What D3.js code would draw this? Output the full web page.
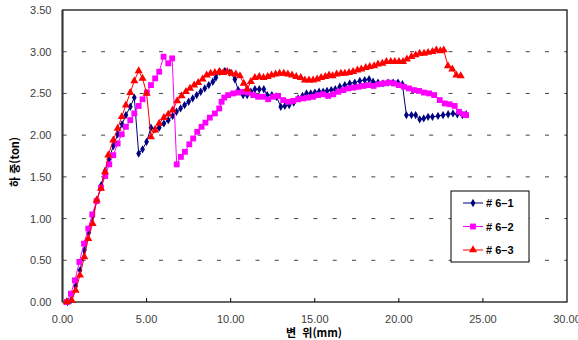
<!DOCTYPE html>
<html lang="ko">
  <head>
    <meta charset="UTF-8" />
    <title>하중-변위 곡선</title>
    <style type="text/css">
      body {
        margin: 0;
        background: #ffffff;
        font-family: "Liberation Sans", Arial, Helvetica, sans-serif;
      }

      svg {
        display: block;
      }

      .tick-label {
        font-size: 11px;
        fill: #404040;
      }

      .axis-title {
        font-family: "Noto Sans CJK KR", "Liberation Sans", sans-serif;
        font-size: 11px;
        font-weight: bold;
        fill: #000000;
      }

      .legend-label {
        font-size: 11px;
        font-weight: bold;
        fill: #000000;
      }
    </style>
  </head>
  <body>
    <script src="https://d3js.org/d3.v7.min.js"></script>
    <script>
      // 변위(mm), 하중(ton)
      var s61x = [0.30, 0.50, 0.78, 1.04, 1.30, 1.56, 1.80, 2.05, 2.30, 2.53, 2.76, 3.02, 3.28, 3.54, 3.77, 4.03, 4.27,
        4.53, 4.76, 5.00, 5.26, 5.50, 5.75, 6.03, 6.29, 6.55, 6.78, 7.02, 7.26, 7.50, 7.74, 7.98, 8.22, 8.46, 8.70, 8.94,
        9.12, 9.36, 9.66, 9.95, 10.25, 10.45, 10.74, 10.98, 11.20, 11.44, 11.70, 11.97, 12.17, 12.45, 12.73, 12.98, 13.22,
        13.48, 13.75, 14.01, 14.27, 14.51, 14.76, 15.01, 15.26, 15.50, 15.73, 15.98, 16.22, 16.49, 16.79, 17.08, 17.38,
        17.68, 17.97, 18.23, 18.47, 18.76, 19.06, 19.36, 19.66, 19.95, 20.21, 20.45, 20.75, 21.00, 21.24, 21.48, 21.74,
        22.00, 22.33, 22.63, 22.93, 23.22, 23.48, 23.78, 24.00];
      var s61y = [0.00, 0.02, 0.19, 0.38, 0.62, 0.83, 1.03, 1.22, 1.40, 1.57, 1.71, 1.87, 2.01, 2.13, 2.24, 2.34, 2.45,
        1.78, 1.83, 1.92, 2.09, 2.07, 2.09, 2.14, 2.18, 2.23, 2.28, 2.32, 2.36, 2.40, 2.44, 2.48, 2.52, 2.56, 2.60, 2.64,
        2.69, 2.76, 2.77, 2.75, 2.67, 2.54, 2.48, 2.48, 2.52, 2.55, 2.55, 2.55, 2.48, 2.48, 2.46, 2.34, 2.35,
        2.36, 2.39, 2.44, 2.47, 2.50, 2.50, 2.51, 2.52, 2.52, 2.53, 2.54, 2.55, 2.58, 2.60, 2.62, 2.63,
        2.65, 2.66, 2.67, 2.64, 2.63, 2.62, 2.63, 2.63, 2.63, 2.61, 2.24, 2.24, 2.24, 2.19, 2.20, 2.22,
        2.22, 2.23, 2.24, 2.25, 2.26, 2.25, 2.24, 2.25];

      var s62x = [0.25, 0.50, 0.74, 1.00, 1.28, 1.53, 1.77, 2.03, 2.29, 2.54, 2.78, 3.02, 3.28, 3.52, 3.77, 4.03, 4.27,
        4.53, 4.76, 5.02, 5.26, 5.51, 5.75, 6.01, 6.29, 6.52, 6.79, 7.04, 7.28, 7.54, 7.77, 8.01, 8.27, 8.50, 8.76, 9.06,
        9.32, 9.46, 9.62, 9.85, 10.15, 10.45, 10.74, 11.04, 11.34, 11.63, 11.93, 12.23, 12.53, 12.82, 13.12, 13.42,
        13.72, 14.01, 14.31, 14.61, 14.91, 15.20, 15.50, 15.80, 16.10, 16.40, 16.70, 17.00, 17.30, 17.60, 17.90,
        18.20, 18.50, 18.80, 19.10, 19.40, 19.70, 20.00, 20.30, 20.60, 20.90, 21.20, 21.50, 21.80, 22.10, 22.43,
        22.73, 23.02, 23.32, 23.58, 23.86, 24.00];
      var s62y = [0.00, 0.10, 0.26, 0.48, 0.70, 0.88, 1.05, 1.21, 1.37, 1.51, 1.65, 1.76, 1.90, 2.01, 2.10, 2.18, 2.26,
        2.35, 2.43, 2.51, 2.60, 2.68, 2.76, 2.94, 2.86, 2.92, 1.65, 1.74, 1.80, 1.89, 1.96, 2.04, 2.10, 2.15, 2.21, 2.26,
        2.32, 2.40, 2.45, 2.48, 2.50, 2.51, 2.52, 2.51, 2.48, 2.46, 2.46, 2.43, 2.46, 2.47, 2.42, 2.40,
        2.41, 2.43, 2.44, 2.45, 2.46, 2.48, 2.49, 2.47, 2.49, 2.52, 2.54, 2.56, 2.57, 2.58, 2.59,
        2.60, 2.59, 2.61, 2.62, 2.63, 2.62, 2.60, 2.58, 2.56, 2.54, 2.53, 2.51, 2.50, 2.48, 2.42,
        2.38, 2.37, 2.35, 2.28, 2.25, 2.24];

      var s63x = [0.25, 0.55, 0.78, 1.04, 1.30, 1.53, 1.79, 2.03, 2.29, 2.53, 2.72, 3.02, 3.28, 3.52, 3.77, 4.03, 4.27,
        4.53, 4.76, 5.00, 5.26, 5.51, 5.75, 6.03, 6.29, 6.55, 6.82, 7.08, 7.34, 7.58, 7.83, 8.07, 8.33, 8.57, 8.81, 9.06,
        9.32, 9.56, 9.80, 10.05, 10.31, 10.55, 10.78, 10.98, 11.20, 11.44, 11.70, 11.95, 12.20, 12.43, 12.67, 12.91,
        13.16, 13.40, 13.65, 13.90, 14.17, 14.41, 14.66, 14.90, 15.14, 15.38, 15.63, 15.85, 16.06, 16.30, 16.56, 16.79,
        17.04, 17.28, 17.54, 17.77, 18.03, 18.27, 18.53, 18.76, 19.02, 19.26, 19.52, 19.76, 20.01, 20.25, 20.48, 20.75,
        21.00, 21.24, 21.50, 21.74, 22.00, 22.23, 22.47, 22.67, 22.92, 23.18, 23.42, 23.68];
      var s63y = [0.00, 0.02, 0.14, 0.32, 0.54, 0.76, 0.94, 1.22, 1.36, 1.56, 1.76, 1.94, 2.08, 2.22, 2.36, 2.51, 2.65,
        2.77, 2.68, 2.50, 1.98, 2.06, 2.14, 2.21, 2.25, 2.30, 2.41, 2.47, 2.52, 2.56, 2.60, 2.63, 2.67, 2.72, 2.74, 2.75,
        2.76, 2.75, 2.76, 2.74, 2.73, 2.71, 2.62, 2.55, 2.64, 2.69, 2.70, 2.69, 2.70, 2.72, 2.73, 2.74,
        2.74, 2.73, 2.72, 2.70, 2.69, 2.66, 2.66, 2.66, 2.67, 2.69, 2.70, 2.72, 2.71, 2.73, 2.74, 2.74,
        2.75, 2.76, 2.78, 2.79, 2.81, 2.82, 2.83, 2.85, 2.86, 2.88, 2.88, 2.88, 2.88, 2.88, 2.91, 2.94,
        2.96, 2.98, 2.98, 2.99, 3.00, 3.02, 3.01, 3.02, 2.83, 2.79, 2.72, 2.71];

      var seriesNames = ["# 6\u20131", "# 6\u20132", "# 6\u20133"];
      var xTicks = [0, 5, 10, 15, 20, 25, 30];
      var yTicks = [0, 0.5, 1, 1.5, 2, 2.5, 3, 3.5];

      var width = 578;
      var height = 340;
      var margin = { top: 10, right: 11, bottom: 38, left: 62.5 };

      var x = d3.scaleLinear().domain([0, 30]).range([margin.left, width - margin.right]);
      var y = d3.scaleLinear().domain([0, 3.5]).range([height - margin.bottom, margin.top]);

      var series = [
        { name: seriesNames[0], xs: s61x, ys: s61y, color: "#000080", symbol: d3.symbolDiamond, size: 20 },
        { name: seriesNames[1], xs: s62x, ys: s62y, color: "#ff00ff", symbol: d3.symbolSquare, size: 34 },
        { name: seriesNames[2], xs: s63x, ys: s63y, color: "#ff0000", symbol: d3.symbolTriangle, size: 28 },
      ].map((s) => ({ ...s, points: s.xs.map((v, i) => [v, s.ys[i]]) }));

      var svg = d3
        .select("body")
        .append("svg")
        .attr("width", width)
        .attr("height", height);

      // grid
      svg
        .append("g")
        .selectAll("line")
        .data(yTicks.slice(1, -1))
        .join("line")
        .attr("x1", x(0))
        .attr("x2", x(30))
        .attr("y1", (d) => y(d))
        .attr("y2", (d) => y(d))
        .attr("stroke", "#404040")
        .attr("stroke-width", 1)
        .attr("stroke-dasharray", "4,15.3");

      // frame
      svg
        .append("rect")
        .attr("x", x(0))
        .attr("y", y(3.5))
        .attr("width", x(30) - x(0))
        .attr("height", y(0) - y(3.5))
        .attr("fill", "none")
        .attr("stroke", "#000000")
        .attr("stroke-width", 1.2);

      svg
        .append("line")
        .attr("x1", x(0))
        .attr("x2", x(0))
        .attr("y1", y(3.5))
        .attr("y2", y(0))
        .attr("stroke", "#333333")
        .attr("stroke-width", 2);

      // x ticks (inside)
      svg
        .append("g")
        .selectAll("line")
        .data(xTicks.slice(1, -1))
        .join("line")
        .attr("x1", (d) => x(d))
        .attr("x2", (d) => x(d))
        .attr("y1", y(0))
        .attr("y2", y(0) - 4)
        .attr("stroke", "#000000");

      svg
        .append("g")
        .selectAll("text")
        .data(xTicks)
        .join("text")
        .attr("class", "tick-label")
        .attr("x", (d) => x(d))
        .attr("y", y(0) + 21)
        .attr("text-anchor", "middle")
        .text((d) => d3.format(".2f")(d));

      svg
        .append("g")
        .selectAll("text")
        .data(yTicks)
        .join("text")
        .attr("class", "tick-label")
        .attr("x", x(0) - 11)
        .attr("y", (d) => y(d) + 4)
        .attr("text-anchor", "end")
        .text((d) => d3.format(".2f")(d));

      // axis titles
      svg
        .append("text")
        .attr("class", "axis-title")
        .attr("x", 314)
        .attr("y", 337)
        .attr("text-anchor", "middle")
        .attr("xml:space", "preserve")
        .text("변  위(mm)");

      svg
        .append("text")
        .attr("class", "axis-title")
        .attr("transform", "translate(19,162) rotate(-90)")
        .attr("text-anchor", "middle")
        .attr("xml:space", "preserve")
        .text("하 중(ton)");

      var line = d3
        .line()
        .x((d) => x(d[0]))
        .y((d) => y(d[1]));

      var seriesG = svg
        .append("g")
        .selectAll("g")
        .data(series)
        .join("g");

      seriesG
        .append("path")
        .attr("d", (d) => line(d.points))
        .attr("fill", "none")
        .attr("stroke", (d) => d.color)
        .attr("stroke-width", 1);

      seriesG.each(function (s) {
        d3.select(this)
          .selectAll(".marker")
          .data(s.points)
          .join("path")
          .attr("class", "marker")
          .attr("transform", (d) => `translate(${x(d[0])},${y(d[1])})`)
          .attr("d", d3.symbol(s.symbol, s.size))
          .attr("fill", s.color);
      });

      // legend
      var legend = svg.append("g").attr("transform", "translate(451,191)");
      legend
        .append("rect")
        .attr("width", 78)
        .attr("height", 71)
        .attr("fill", "#ffffff")
        .attr("stroke", "#000000")
        .attr("stroke-width", 1);

      var legendItem = legend
        .selectAll(".legend-item")
        .data(series)
        .join("g")
        .attr("class", "legend-item")
        .attr("transform", (d, i) => `translate(0,${12 + i * 23.5})`);

      legendItem
        .append("line")
        .attr("x1", 12)
        .attr("x2", 32)
        .attr("stroke", (d) => d.color);

      legendItem
        .append("path")
        .attr("transform", "translate(22,0)")
        .attr("d", (d) => d3.symbol(d.symbol, d.size)())
        .attr("fill", (d) => d.color);

      legendItem
        .append("text")
        .attr("class", "legend-label")
        .attr("x", 35)
        .attr("y", 4)
        .text((d) => d.name);
    </script>
  </body>
</html>
